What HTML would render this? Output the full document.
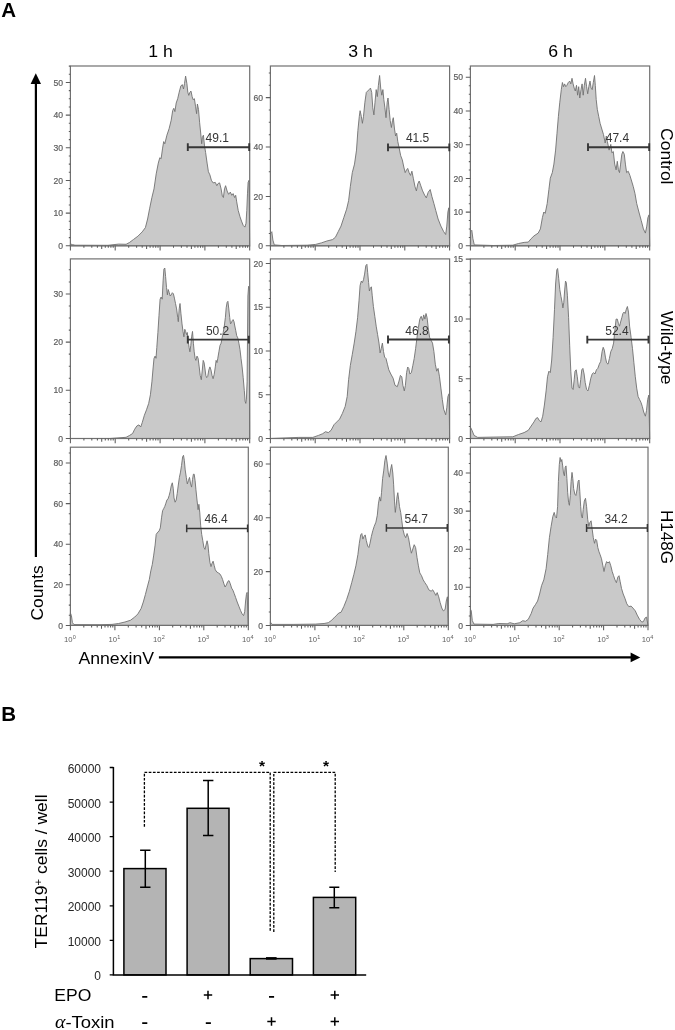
<!DOCTYPE html>
<html><head><meta charset="utf-8"><title>Figure</title>
<style>
html,body{margin:0;padding:0;background:#fff;}
body{width:675px;height:1030px;overflow:hidden;font-family:"Liberation Sans",sans-serif;}
svg{display:block;will-change:transform;}
svg text{font-family:"Liberation Sans",sans-serif;}
</style></head><body>
<svg width="675" height="1030" viewBox="0 0 675 1030">
<rect width="675" height="1030" fill="#fff"/>
<!-- panel letters -->
<text x="1.2" y="16.9" font-size="20.5" font-weight="bold" fill="#000">A</text>
<text x="1.2" y="720.8" font-size="20.5" font-weight="bold" fill="#000">B</text>
<!-- column headers -->
<text x="160.5" y="57" font-size="17" text-anchor="middle" fill="#000" textLength="24.6" lengthAdjust="spacingAndGlyphs">1 h</text>
<text x="360.5" y="57" font-size="17" text-anchor="middle" fill="#000" textLength="24.6" lengthAdjust="spacingAndGlyphs">3 h</text>
<text x="560.5" y="57" font-size="17" text-anchor="middle" fill="#000" textLength="24.6" lengthAdjust="spacingAndGlyphs">6 h</text>
<!-- row labels -->
<text transform="translate(660.9 156.3) rotate(90)" font-size="17" text-anchor="middle" fill="#000" textLength="56.4" lengthAdjust="spacingAndGlyphs">Control</text>
<text transform="translate(660.9 347.8) rotate(90)" font-size="17" text-anchor="middle" fill="#000" textLength="73.4" lengthAdjust="spacingAndGlyphs">Wild-type</text>
<text transform="translate(660.9 537) rotate(90)" font-size="17" text-anchor="middle" fill="#000">H148G</text>
<!-- Counts axis -->
<text transform="translate(42.6 620.5) rotate(-90)" font-size="17" fill="#000" textLength="55.2" lengthAdjust="spacingAndGlyphs">Counts</text>
<path d="M35.9 557V83" stroke="#000" stroke-width="2.2" fill="none"/>
<polygon points="35.8,73.2 30.6,83.9 41,83.9" fill="#000"/>
<!-- AnnexinV axis -->
<text x="78.4" y="664.3" font-size="17" fill="#000" textLength="75.6" lengthAdjust="spacingAndGlyphs">AnnexinV</text>
<path d="M158.9 657.4H632" stroke="#000" stroke-width="2.2" fill="none"/>
<polygon points="640.3,657.4 630.6,652.5 630.6,662.3" fill="#000"/>
<polygon points="70.4,245.8 70.4,244.0 72.5,244.6 75.0,245.2 108.0,245.3 118.6,244.1 126.1,244.3 129.3,242.6 133.6,239.4 137.9,236.2 142.2,231.9 145.4,227.6 147.6,219.0 149.7,208.2 151.9,197.5 154.0,188.9 156.2,173.9 158.3,163.1 159.8,157.7 161.1,158.8 162.6,148.1 163.7,141.6 164.8,143.8 166.9,135.2 169.1,128.7 171.2,120.2 172.7,110.5 173.8,108.3 174.9,111.6 176.2,103.0 177.7,98.7 179.2,92.2 180.9,85.8 182.4,84.7 183.5,89.0 184.5,83.6 185.6,76.1 186.9,83.6 187.8,92.2 188.8,95.4 189.9,92.2 191.0,91.1 192.1,96.5 193.1,99.7 194.4,98.7 195.5,106.2 196.6,113.7 197.4,104.0 198.5,109.4 199.6,122.3 200.7,133.0 201.7,143.8 202.4,137.3 203.4,135.2 204.5,145.9 205.6,152.4 207.1,163.1 208.4,171.7 209.9,174.9 211.4,180.3 213.1,182.9 215.3,182.4 216.8,185.7 218.1,183.5 219.6,182.9 221.1,188.9 222.4,196.4 223.4,197.5 224.5,188.9 225.6,185.7 227.1,191.0 228.6,194.3 230.3,192.1 231.8,195.3 233.1,193.6 234.6,197.5 235.7,195.3 236.7,201.8 238.2,210.4 240.0,216.8 241.5,221.1 243.2,225.4 244.9,227.1 246.0,223.3 246.8,210.4 247.5,193.2 248.1,182.4 249.0,180.3 249.7,245.8" fill="#c9c9c9" stroke="#707070" stroke-width="0.9" stroke-linejoin="round"/>
<rect x="70.4" y="66.0" width="179.3" height="179.8" fill="none" stroke="#707070" stroke-width="1.2"/>
<text x="63.0" y="248.9" font-size="8.6" fill="#5e5e5e" stroke="#5e5e5e" stroke-width="0.2" text-anchor="end">0</text>
<text x="63.0" y="216.2" font-size="8.6" fill="#5e5e5e" stroke="#5e5e5e" stroke-width="0.2" text-anchor="end">10</text>
<text x="63.0" y="183.5" font-size="8.6" fill="#5e5e5e" stroke="#5e5e5e" stroke-width="0.2" text-anchor="end">20</text>
<text x="63.0" y="150.9" font-size="8.6" fill="#5e5e5e" stroke="#5e5e5e" stroke-width="0.2" text-anchor="end">30</text>
<text x="63.0" y="118.2" font-size="8.6" fill="#5e5e5e" stroke="#5e5e5e" stroke-width="0.2" text-anchor="end">40</text>
<text x="63.0" y="85.5" font-size="8.6" fill="#5e5e5e" stroke="#5e5e5e" stroke-width="0.2" text-anchor="end">50</text>
<path d="M70.4 245.8h-1.6M70.4 237.6h-1.6M70.4 229.5h-1.6M70.4 221.3h-1.6M70.4 213.1h-1.6M70.4 205.0h-1.6M70.4 196.8h-1.6M70.4 188.6h-1.6M70.4 180.4h-1.6M70.4 172.3h-1.6M70.4 164.1h-1.6M70.4 155.9h-1.6M70.4 147.8h-1.6M70.4 139.6h-1.6M70.4 131.4h-1.6M70.4 123.3h-1.6M70.4 115.1h-1.6M70.4 106.9h-1.6M70.4 98.7h-1.6M70.4 90.6h-1.6M70.4 82.4h-1.6M70.4 74.2h-1.6M70.4 66.1h-1.6M70.4 245.8h-4.6M70.4 213.1h-4.6M70.4 180.4h-4.6M70.4 147.8h-4.6M70.4 115.1h-4.6M70.4 82.4h-4.6M70.4 245.8v4.8M83.9 245.8v2.0M91.8 245.8v2.0M97.4 245.8v2.0M101.7 245.8v3.3M105.3 245.8v2.0M108.3 245.8v2.0M110.9 245.8v2.0M113.2 245.8v2.0M115.2 245.8v4.8M128.7 245.8v2.0M136.6 245.8v2.0M142.2 245.8v2.0M146.6 245.8v3.3M150.1 245.8v2.0M153.1 245.8v2.0M155.7 245.8v2.0M158.0 245.8v2.0M160.1 245.8v4.8M173.5 245.8v2.0M181.4 245.8v2.0M187.0 245.8v2.0M191.4 245.8v3.3M194.9 245.8v2.0M197.9 245.8v2.0M200.5 245.8v2.0M202.8 245.8v2.0M204.9 245.8v4.8M218.4 245.8v2.0M226.3 245.8v2.0M231.9 245.8v2.0M236.2 245.8v3.3M239.8 245.8v2.0M242.8 245.8v2.0M245.4 245.8v2.0M247.6 245.8v2.0M249.7 245.8v4.8" stroke="#5c5c5c" stroke-width="1.05" fill="none"/>
<path d="M187.8 147.2H249.2M187.8 143.3v7.8M249.2 143.3v7.8" stroke="#363636" stroke-width="1.9" fill="none"/>
<text x="217.3" y="142.3" font-size="12" fill="#363636" text-anchor="middle">49.1</text>
<polygon points="270.6,245.8 270.6,233.1 271.8,231.7 272.9,240.1 274.3,244.9 281.9,245.5 307.2,245.2 315.7,244.4 321.3,242.9 326.9,241.0 332.5,239.6 335.4,237.3 338.2,231.7 341.0,226.1 343.8,217.6 346.6,209.2 348.6,200.7 350.3,186.7 352.3,172.6 354.5,164.1 356.5,150.1 357.9,130.4 359.3,116.3 360.1,110.7 361.3,116.3 362.4,123.3 363.5,116.3 364.9,102.2 366.3,92.4 367.7,91.0 369.1,89.6 370.5,88.1 371.7,92.4 372.8,107.8 373.9,114.9 375.0,102.2 376.2,89.6 377.3,96.6 378.4,85.3 379.6,75.5 380.7,88.1 381.8,95.2 382.9,89.6 383.8,99.4 384.9,107.8 386.0,117.7 387.2,102.2 388.0,98.0 389.1,109.3 390.2,120.5 391.4,127.5 392.5,120.5 393.3,117.7 394.5,129.0 395.6,136.0 396.7,133.2 397.8,141.6 399.0,147.3 400.7,155.7 402.3,159.9 403.8,167.0 405.2,172.6 406.6,169.8 407.7,168.4 409.1,172.6 410.5,175.4 411.9,171.2 413.3,178.2 415.0,186.7 416.4,190.9 417.8,183.8 419.2,181.0 420.6,185.2 422.6,190.9 424.6,195.1 426.3,197.9 428.2,192.3 430.2,189.5 431.9,196.5 433.9,203.5 435.8,210.6 438.1,219.0 440.9,226.1 443.7,231.7 445.7,234.5 446.8,226.1 447.9,212.0 448.8,207.8 449.6,245.8" fill="#c9c9c9" stroke="#707070" stroke-width="0.9" stroke-linejoin="round"/>
<rect x="270.4" y="66.0" width="179.2" height="179.8" fill="none" stroke="#707070" stroke-width="1.2"/>
<text x="263.0" y="248.9" font-size="8.6" fill="#5e5e5e" stroke="#5e5e5e" stroke-width="0.2" text-anchor="end">0</text>
<text x="263.0" y="199.5" font-size="8.6" fill="#5e5e5e" stroke="#5e5e5e" stroke-width="0.2" text-anchor="end">20</text>
<text x="263.0" y="150.1" font-size="8.6" fill="#5e5e5e" stroke="#5e5e5e" stroke-width="0.2" text-anchor="end">40</text>
<text x="263.0" y="100.7" font-size="8.6" fill="#5e5e5e" stroke="#5e5e5e" stroke-width="0.2" text-anchor="end">60</text>
<path d="M270.4 245.8h-1.6M270.4 233.5h-1.6M270.4 221.1h-1.6M270.4 208.8h-1.6M270.4 196.4h-1.6M270.4 184.1h-1.6M270.4 171.7h-1.6M270.4 159.4h-1.6M270.4 147.0h-1.6M270.4 134.7h-1.6M270.4 122.3h-1.6M270.4 109.9h-1.6M270.4 97.6h-1.6M270.4 85.2h-1.6M270.4 72.9h-1.6M270.4 245.8h-4.6M270.4 196.4h-4.6M270.4 147.0h-4.6M270.4 97.6h-4.6M270.4 245.8v4.8M283.9 245.8v2.0M291.8 245.8v2.0M297.4 245.8v2.0M301.7 245.8v3.3M305.3 245.8v2.0M308.3 245.8v2.0M310.9 245.8v2.0M313.2 245.8v2.0M315.2 245.8v4.8M328.7 245.8v2.0M336.6 245.8v2.0M342.2 245.8v2.0M346.5 245.8v3.3M350.1 245.8v2.0M353.1 245.8v2.0M355.7 245.8v2.0M358.0 245.8v2.0M360.0 245.8v4.8M373.5 245.8v2.0M381.4 245.8v2.0M387.0 245.8v2.0M391.3 245.8v3.3M394.9 245.8v2.0M397.9 245.8v2.0M400.5 245.8v2.0M402.8 245.8v2.0M404.8 245.8v4.8M418.3 245.8v2.0M426.2 245.8v2.0M431.8 245.8v2.0M436.1 245.8v3.3M439.7 245.8v2.0M442.7 245.8v2.0M445.3 245.8v2.0M447.6 245.8v2.0M449.6 245.8v4.8" stroke="#5c5c5c" stroke-width="1.05" fill="none"/>
<path d="M388.0 147.4H449.3M388.0 143.5v7.8M449.3 143.5v7.8" stroke="#363636" stroke-width="1.9" fill="none"/>
<text x="417.6" y="142.4" font-size="12" fill="#363636" text-anchor="middle">41.5</text>
<polygon points="470.6,245.8 470.6,231.7 471.8,230.3 472.9,238.7 474.3,244.9 493.1,245.5 512.8,245.2 518.5,243.5 524.1,242.4 528.3,242.1 531.1,238.7 534.0,235.9 538.2,233.1 540.4,228.9 542.4,217.6 543.8,212.0 545.2,213.4 547.2,203.5 548.9,189.5 550.3,178.2 552.3,172.6 553.9,164.1 555.6,150.1 557.0,133.2 558.4,116.3 559.8,102.2 561.3,89.6 562.4,82.5 563.5,86.7 564.6,83.9 565.8,86.7 566.9,85.3 568.3,82.5 569.7,81.1 570.8,83.9 572.0,78.3 573.1,83.9 574.2,88.1 575.3,91.0 576.5,85.3 577.6,95.2 578.7,86.7 579.8,98.0 581.0,89.6 582.1,83.9 583.2,95.2 584.3,85.3 585.5,78.3 586.6,86.7 587.7,93.8 588.8,86.7 590.0,81.1 591.1,88.1 592.2,89.6 593.3,82.5 594.5,75.5 595.3,85.3 596.2,99.4 597.3,109.3 598.7,116.3 600.1,123.3 601.8,129.0 603.5,134.6 605.2,143.0 606.3,136.0 607.4,141.6 609.1,150.1 610.8,144.4 611.9,152.9 613.3,151.5 614.7,164.1 616.1,169.8 617.3,161.3 618.4,169.8 619.5,172.6 620.6,164.1 621.8,154.3 622.9,151.5 624.3,154.3 625.4,164.1 626.6,172.6 628.2,171.2 629.9,175.4 631.6,181.0 633.3,186.7 635.0,193.7 636.7,203.5 638.9,212.0 641.2,220.4 643.4,228.9 645.4,233.1 646.8,226.1 647.9,217.6 649.1,214.8 649.7,245.8" fill="#c9c9c9" stroke="#707070" stroke-width="0.9" stroke-linejoin="round"/>
<rect x="470.4" y="66.0" width="179.3" height="179.8" fill="none" stroke="#707070" stroke-width="1.2"/>
<text x="463.0" y="248.9" font-size="8.6" fill="#5e5e5e" stroke="#5e5e5e" stroke-width="0.2" text-anchor="end">0</text>
<text x="463.0" y="215.2" font-size="8.6" fill="#5e5e5e" stroke="#5e5e5e" stroke-width="0.2" text-anchor="end">10</text>
<text x="463.0" y="181.5" font-size="8.6" fill="#5e5e5e" stroke="#5e5e5e" stroke-width="0.2" text-anchor="end">20</text>
<text x="463.0" y="147.8" font-size="8.6" fill="#5e5e5e" stroke="#5e5e5e" stroke-width="0.2" text-anchor="end">30</text>
<text x="463.0" y="114.1" font-size="8.6" fill="#5e5e5e" stroke="#5e5e5e" stroke-width="0.2" text-anchor="end">40</text>
<text x="463.0" y="80.4" font-size="8.6" fill="#5e5e5e" stroke="#5e5e5e" stroke-width="0.2" text-anchor="end">50</text>
<path d="M470.4 245.8h-1.6M470.4 237.4h-1.6M470.4 229.0h-1.6M470.4 220.5h-1.6M470.4 212.1h-1.6M470.4 203.7h-1.6M470.4 195.2h-1.6M470.4 186.8h-1.6M470.4 178.4h-1.6M470.4 170.0h-1.6M470.4 161.6h-1.6M470.4 153.1h-1.6M470.4 144.7h-1.6M470.4 136.3h-1.6M470.4 127.9h-1.6M470.4 119.4h-1.6M470.4 111.0h-1.6M470.4 102.6h-1.6M470.4 94.2h-1.6M470.4 85.7h-1.6M470.4 77.3h-1.6M470.4 68.9h-1.6M470.4 245.8h-4.6M470.4 212.1h-4.6M470.4 178.4h-4.6M470.4 144.7h-4.6M470.4 111.0h-4.6M470.4 77.3h-4.6M470.4 245.8v4.8M483.9 245.8v2.0M491.8 245.8v2.0M497.4 245.8v2.0M501.7 245.8v3.3M505.3 245.8v2.0M508.3 245.8v2.0M510.9 245.8v2.0M513.2 245.8v2.0M515.2 245.8v4.8M528.7 245.8v2.0M536.6 245.8v2.0M542.2 245.8v2.0M546.6 245.8v3.3M550.1 245.8v2.0M553.1 245.8v2.0M555.7 245.8v2.0M558.0 245.8v2.0M560.0 245.8v4.8M573.5 245.8v2.0M581.4 245.8v2.0M587.0 245.8v2.0M591.4 245.8v3.3M594.9 245.8v2.0M597.9 245.8v2.0M600.5 245.8v2.0M602.8 245.8v2.0M604.9 245.8v4.8M618.4 245.8v2.0M626.3 245.8v2.0M631.9 245.8v2.0M636.2 245.8v3.3M639.8 245.8v2.0M642.8 245.8v2.0M645.4 245.8v2.0M647.6 245.8v2.0M649.7 245.8v4.8" stroke="#5c5c5c" stroke-width="1.05" fill="none"/>
<path d="M588.0 147.2H649.2M588.0 143.3v7.8M649.2 143.3v7.8" stroke="#363636" stroke-width="1.9" fill="none"/>
<text x="617.4" y="142.0" font-size="12" fill="#363636" text-anchor="middle">47.4</text>
<polygon points="110.0,438.5 126.1,437.3 129.3,435.6 132.6,433.5 134.7,429.2 136.9,425.9 139.0,424.9 140.7,427.0 142.2,422.7 144.4,415.2 146.5,409.8 148.7,403.4 150.4,394.8 151.9,381.9 153.0,369.0 154.0,358.3 155.1,356.1 156.0,358.3 156.8,347.5 157.9,332.5 159.0,315.3 160.1,299.2 161.1,297.0 162.2,299.2 163.1,280.9 163.9,269.1 164.8,268.0 165.6,276.6 166.5,287.4 167.4,294.9 168.2,289.5 169.3,292.7 170.2,296.0 171.2,294.9 172.3,292.7 173.4,293.8 174.4,298.1 175.5,303.5 176.6,308.9 177.7,317.4 178.3,321.7 179.2,308.9 180.0,303.5 180.9,313.2 182.0,323.9 183.0,331.4 183.9,336.8 184.8,329.3 185.6,331.4 186.5,334.6 187.3,332.5 188.2,341.1 189.1,347.5 189.9,351.8 190.8,345.4 191.6,336.8 192.5,331.4 193.4,343.2 194.2,351.8 195.1,358.3 195.9,360.4 197.0,356.1 198.1,358.3 199.2,366.9 200.2,375.4 201.3,379.7 202.4,369.0 203.2,360.4 204.1,362.6 205.0,369.0 205.8,375.4 206.7,377.6 207.7,376.5 208.8,370.1 209.9,366.9 211.0,370.1 212.0,375.4 213.1,378.7 214.2,374.4 215.3,366.9 216.1,360.4 217.0,362.6 217.8,358.3 218.9,351.8 220.0,345.4 221.1,343.2 222.1,337.9 223.2,332.5 224.3,326.0 225.4,317.4 226.2,307.8 227.1,302.4 227.9,301.3 228.8,308.9 229.7,317.4 230.5,323.9 231.4,322.8 232.2,320.7 233.1,319.6 234.0,321.7 234.8,326.0 235.7,330.3 236.7,335.7 237.8,337.9 238.9,343.2 240.0,349.7 241.0,358.3 242.1,366.9 243.2,377.6 244.3,390.5 245.1,401.2 245.8,403.4 246.4,399.1 247.1,381.9 247.5,338.9 247.9,296.0 248.6,286.3 249.2,287.4 249.7,438.5" fill="#c9c9c9" stroke="#707070" stroke-width="0.9" stroke-linejoin="round"/>
<rect x="70.4" y="258.9" width="179.3" height="179.6" fill="none" stroke="#707070" stroke-width="1.2"/>
<text x="63.0" y="441.6" font-size="8.6" fill="#5e5e5e" stroke="#5e5e5e" stroke-width="0.2" text-anchor="end">0</text>
<text x="63.0" y="393.4" font-size="8.6" fill="#5e5e5e" stroke="#5e5e5e" stroke-width="0.2" text-anchor="end">10</text>
<text x="63.0" y="345.2" font-size="8.6" fill="#5e5e5e" stroke="#5e5e5e" stroke-width="0.2" text-anchor="end">20</text>
<text x="63.0" y="297.0" font-size="8.6" fill="#5e5e5e" stroke="#5e5e5e" stroke-width="0.2" text-anchor="end">30</text>
<path d="M70.4 438.5h-1.6M70.4 426.4h-1.6M70.4 414.4h-1.6M70.4 402.4h-1.6M70.4 390.3h-1.6M70.4 378.2h-1.6M70.4 366.2h-1.6M70.4 354.1h-1.6M70.4 342.1h-1.6M70.4 330.1h-1.6M70.4 318.0h-1.6M70.4 305.9h-1.6M70.4 293.9h-1.6M70.4 281.9h-1.6M70.4 269.8h-1.6M70.4 438.5h-4.6M70.4 390.3h-4.6M70.4 342.1h-4.6M70.4 293.9h-4.6M70.4 438.5v4.8M83.9 438.5v2.0M91.8 438.5v2.0M97.4 438.5v2.0M101.7 438.5v3.3M105.3 438.5v2.0M108.3 438.5v2.0M110.9 438.5v2.0M113.2 438.5v2.0M115.2 438.5v4.8M128.7 438.5v2.0M136.6 438.5v2.0M142.2 438.5v2.0M146.6 438.5v3.3M150.1 438.5v2.0M153.1 438.5v2.0M155.7 438.5v2.0M158.0 438.5v2.0M160.1 438.5v4.8M173.5 438.5v2.0M181.4 438.5v2.0M187.0 438.5v2.0M191.4 438.5v3.3M194.9 438.5v2.0M197.9 438.5v2.0M200.5 438.5v2.0M202.8 438.5v2.0M204.9 438.5v4.8M218.4 438.5v2.0M226.3 438.5v2.0M231.9 438.5v2.0M236.2 438.5v3.3M239.8 438.5v2.0M242.8 438.5v2.0M245.4 438.5v2.0M247.6 438.5v2.0M249.7 438.5v4.8" stroke="#5c5c5c" stroke-width="1.05" fill="none"/>
<path d="M187.8 339.6H248.8M187.8 335.7v7.8M248.8 335.7v7.8" stroke="#363636" stroke-width="1.9" fill="none"/>
<text x="217.6" y="335.2" font-size="12" fill="#363636" text-anchor="middle">50.2</text>
<polygon points="270.6,438.5 298.8,437.4 312.8,437.4 318.5,435.4 322.7,433.7 325.5,431.7 328.3,432.6 331.1,430.3 334.0,424.7 336.8,421.9 339.6,419.1 342.4,413.4 345.2,406.4 347.2,396.5 348.6,379.7 350.3,365.6 352.3,354.3 354.2,343.1 355.9,331.8 357.6,317.7 359.0,300.8 360.1,285.4 361.3,281.1 362.4,282.6 363.5,279.7 364.6,274.1 365.8,265.7 366.9,264.3 367.7,272.7 368.6,282.6 369.4,291.0 370.3,288.2 371.4,286.8 372.2,295.2 373.4,306.5 374.8,316.3 376.2,326.2 377.6,334.6 379.0,343.1 380.1,352.9 381.2,348.7 382.4,343.1 383.5,351.5 384.6,357.1 386.0,358.5 387.4,364.2 388.8,369.8 390.8,374.0 393.1,378.2 395.0,385.3 397.3,386.7 399.0,381.1 400.4,375.4 401.8,376.8 402.9,385.3 404.3,390.9 405.4,385.3 406.6,372.6 407.7,367.0 408.8,368.4 409.9,374.0 411.4,372.6 412.8,365.6 414.2,358.5 415.6,348.7 417.0,337.4 418.4,327.6 419.8,319.1 421.2,316.3 422.6,320.5 423.7,314.9 424.9,319.1 426.0,313.5 427.1,317.7 428.2,327.6 429.6,337.4 431.1,340.3 432.5,343.1 433.9,351.5 435.3,364.2 436.7,371.2 438.1,368.4 439.5,376.8 440.9,388.1 442.3,399.4 443.7,409.2 445.7,414.8 446.8,407.8 447.9,396.5 449.1,393.7 449.6,438.5" fill="#c9c9c9" stroke="#707070" stroke-width="0.9" stroke-linejoin="round"/>
<rect x="270.4" y="258.9" width="179.2" height="179.6" fill="none" stroke="#707070" stroke-width="1.2"/>
<text x="263.0" y="441.6" font-size="8.6" fill="#5e5e5e" stroke="#5e5e5e" stroke-width="0.2" text-anchor="end">0</text>
<text x="263.0" y="397.9" font-size="8.6" fill="#5e5e5e" stroke="#5e5e5e" stroke-width="0.2" text-anchor="end">5</text>
<text x="263.0" y="354.1" font-size="8.6" fill="#5e5e5e" stroke="#5e5e5e" stroke-width="0.2" text-anchor="end">10</text>
<text x="263.0" y="310.4" font-size="8.6" fill="#5e5e5e" stroke="#5e5e5e" stroke-width="0.2" text-anchor="end">15</text>
<text x="263.0" y="266.6" font-size="8.6" fill="#5e5e5e" stroke="#5e5e5e" stroke-width="0.2" text-anchor="end">20</text>
<path d="M270.4 438.5h-1.6M270.4 429.8h-1.6M270.4 421.0h-1.6M270.4 412.2h-1.6M270.4 403.5h-1.6M270.4 394.8h-1.6M270.4 386.0h-1.6M270.4 377.2h-1.6M270.4 368.5h-1.6M270.4 359.8h-1.6M270.4 351.0h-1.6M270.4 342.2h-1.6M270.4 333.5h-1.6M270.4 324.8h-1.6M270.4 316.0h-1.6M270.4 307.2h-1.6M270.4 298.5h-1.6M270.4 289.8h-1.6M270.4 281.0h-1.6M270.4 272.2h-1.6M270.4 263.5h-1.6M270.4 438.5h-4.6M270.4 394.8h-4.6M270.4 351.0h-4.6M270.4 307.2h-4.6M270.4 263.5h-4.6M270.4 438.5v4.8M283.9 438.5v2.0M291.8 438.5v2.0M297.4 438.5v2.0M301.7 438.5v3.3M305.3 438.5v2.0M308.3 438.5v2.0M310.9 438.5v2.0M313.2 438.5v2.0M315.2 438.5v4.8M328.7 438.5v2.0M336.6 438.5v2.0M342.2 438.5v2.0M346.5 438.5v3.3M350.1 438.5v2.0M353.1 438.5v2.0M355.7 438.5v2.0M358.0 438.5v2.0M360.0 438.5v4.8M373.5 438.5v2.0M381.4 438.5v2.0M387.0 438.5v2.0M391.3 438.5v3.3M394.9 438.5v2.0M397.9 438.5v2.0M400.5 438.5v2.0M402.8 438.5v2.0M404.8 438.5v4.8M418.3 438.5v2.0M426.2 438.5v2.0M431.8 438.5v2.0M436.1 438.5v3.3M439.7 438.5v2.0M442.7 438.5v2.0M445.3 438.5v2.0M447.6 438.5v2.0M449.6 438.5v4.8" stroke="#5c5c5c" stroke-width="1.05" fill="none"/>
<path d="M388.0 339.5H448.9M388.0 335.6v7.8M448.9 335.6v7.8" stroke="#363636" stroke-width="1.9" fill="none"/>
<text x="417.0" y="335.3" font-size="12" fill="#363636" text-anchor="middle">46.8</text>
<polygon points="470.6,438.5 470.6,427.5 472.0,430.3 474.0,435.4 477.7,437.4 493.1,437.1 512.8,436.8 518.5,434.5 524.1,432.6 528.3,430.3 531.1,426.1 534.0,421.9 535.9,418.5 537.6,417.6 539.3,420.5 541.0,421.9 542.7,416.2 544.4,405.0 546.1,390.9 547.5,376.8 548.9,371.2 550.3,372.6 551.7,360.0 553.1,337.4 554.5,309.3 555.6,284.0 556.8,269.9 557.6,268.5 558.7,278.3 559.8,289.6 561.0,296.6 562.1,302.3 562.9,307.9 563.8,302.3 564.6,291.0 565.5,281.1 566.3,282.6 567.4,295.2 568.6,317.7 569.7,345.9 570.8,371.2 572.0,388.1 573.1,389.5 574.2,379.7 575.0,371.2 576.2,369.8 577.3,376.8 578.4,386.7 579.6,388.1 580.7,379.7 581.8,369.8 582.9,368.4 584.1,374.0 585.2,382.5 586.6,389.5 588.0,390.9 589.4,385.3 590.8,378.2 592.2,374.0 593.6,372.6 595.0,374.0 596.4,369.8 597.8,368.4 599.3,364.2 600.7,361.4 602.1,351.5 603.2,347.3 604.3,350.1 605.4,357.1 606.6,362.8 608.0,364.2 609.4,358.5 610.8,351.5 612.2,348.7 613.6,343.1 615.0,329.0 616.1,319.1 617.3,319.1 618.4,323.4 619.5,326.2 620.6,322.0 621.8,317.7 622.9,313.5 624.0,312.1 625.1,313.5 626.3,309.3 627.4,306.5 628.5,312.1 629.6,326.2 631.1,337.4 632.5,348.7 633.9,362.8 635.3,376.8 636.7,388.1 638.1,396.5 639.5,399.4 640.9,402.2 642.3,406.4 643.7,412.0 645.4,416.2 646.5,410.6 647.7,399.4 648.8,395.1 649.7,438.5" fill="#c9c9c9" stroke="#707070" stroke-width="0.9" stroke-linejoin="round"/>
<rect x="470.4" y="258.9" width="179.3" height="179.6" fill="none" stroke="#707070" stroke-width="1.2"/>
<text x="463.0" y="441.6" font-size="8.6" fill="#5e5e5e" stroke="#5e5e5e" stroke-width="0.2" text-anchor="end">0</text>
<text x="463.0" y="381.8" font-size="8.6" fill="#5e5e5e" stroke="#5e5e5e" stroke-width="0.2" text-anchor="end">5</text>
<text x="463.0" y="322.0" font-size="8.6" fill="#5e5e5e" stroke="#5e5e5e" stroke-width="0.2" text-anchor="end">10</text>
<text x="463.0" y="262.2" font-size="8.6" fill="#5e5e5e" stroke="#5e5e5e" stroke-width="0.2" text-anchor="end">15</text>
<path d="M470.4 438.5h-1.6M470.4 426.5h-1.6M470.4 414.6h-1.6M470.4 402.6h-1.6M470.4 390.7h-1.6M470.4 378.7h-1.6M470.4 366.7h-1.6M470.4 354.8h-1.6M470.4 342.8h-1.6M470.4 330.9h-1.6M470.4 318.9h-1.6M470.4 306.9h-1.6M470.4 295.0h-1.6M470.4 283.0h-1.6M470.4 271.1h-1.6M470.4 259.1h-1.6M470.4 438.5h-4.6M470.4 378.7h-4.6M470.4 318.9h-4.6M470.4 259.1h-4.6M470.4 438.5v4.8M483.9 438.5v2.0M491.8 438.5v2.0M497.4 438.5v2.0M501.7 438.5v3.3M505.3 438.5v2.0M508.3 438.5v2.0M510.9 438.5v2.0M513.2 438.5v2.0M515.2 438.5v4.8M528.7 438.5v2.0M536.6 438.5v2.0M542.2 438.5v2.0M546.6 438.5v3.3M550.1 438.5v2.0M553.1 438.5v2.0M555.7 438.5v2.0M558.0 438.5v2.0M560.0 438.5v4.8M573.5 438.5v2.0M581.4 438.5v2.0M587.0 438.5v2.0M591.4 438.5v3.3M594.9 438.5v2.0M597.9 438.5v2.0M600.5 438.5v2.0M602.8 438.5v2.0M604.9 438.5v4.8M618.4 438.5v2.0M626.3 438.5v2.0M631.9 438.5v2.0M636.2 438.5v3.3M639.8 438.5v2.0M642.8 438.5v2.0M645.4 438.5v2.0M647.6 438.5v2.0M649.7 438.5v4.8" stroke="#5c5c5c" stroke-width="1.05" fill="none"/>
<path d="M587.3 339.6H648.5M587.3 335.7v7.8M648.5 335.7v7.8" stroke="#363636" stroke-width="1.9" fill="none"/>
<text x="616.9" y="334.6" font-size="12" fill="#363636" text-anchor="middle">52.4</text>
<polygon points="70.4,625.4 70.4,613.0 71.4,615.5 72.4,622.5 74.0,624.6 100.0,624.7 112.0,624.4 118.6,623.5 125.0,622.0 130.4,620.3 134.7,617.1 137.9,613.9 141.1,608.5 143.3,602.0 145.4,594.5 147.6,585.9 149.3,579.5 150.8,570.9 152.3,564.4 153.6,555.9 155.1,545.1 156.2,534.4 157.7,532.2 159.0,531.2 160.3,527.9 161.6,517.2 162.6,510.7 163.7,508.6 164.8,506.4 165.9,503.2 166.9,500.0 168.0,498.9 169.1,495.7 170.2,491.4 171.2,486.0 172.3,482.8 173.2,488.2 174.0,497.9 175.1,502.2 176.2,500.0 177.2,493.6 178.3,485.0 179.4,477.4 180.5,472.1 181.5,465.6 182.6,457.0 183.5,455.3 184.3,460.3 185.2,469.9 186.3,477.4 187.3,483.9 188.4,480.7 189.5,477.4 190.6,483.9 191.6,487.1 192.5,479.6 193.4,474.2 194.2,474.2 195.1,480.7 195.9,489.3 197.0,500.0 198.1,509.7 198.9,504.3 199.8,512.9 200.7,525.8 201.7,534.4 202.8,540.8 203.9,547.3 205.0,549.4 206.0,545.1 207.1,540.8 208.0,545.1 208.8,553.7 209.9,562.3 211.0,566.6 212.0,563.4 213.1,561.2 214.2,565.5 215.3,569.8 216.8,572.0 218.5,573.0 220.0,574.1 221.3,576.3 222.6,579.5 223.9,583.8 225.1,587.0 226.4,584.9 227.7,581.6 229.0,580.6 230.3,583.8 231.6,588.1 232.9,590.2 234.2,593.5 235.7,597.7 237.2,602.0 238.9,606.3 240.6,610.6 242.1,613.9 243.6,615.6 244.7,611.7 245.6,601.0 246.4,594.5 247.1,592.4 248.3,625.4" fill="#c9c9c9" stroke="#707070" stroke-width="0.9" stroke-linejoin="round"/>
<rect x="70.4" y="447.2" width="177.9" height="178.2" fill="none" stroke="#707070" stroke-width="1.2"/>
<text x="63.0" y="628.5" font-size="8.6" fill="#5e5e5e" stroke="#5e5e5e" stroke-width="0.2" text-anchor="end">0</text>
<text x="63.0" y="587.9" font-size="8.6" fill="#5e5e5e" stroke="#5e5e5e" stroke-width="0.2" text-anchor="end">20</text>
<text x="63.0" y="547.3" font-size="8.6" fill="#5e5e5e" stroke="#5e5e5e" stroke-width="0.2" text-anchor="end">40</text>
<text x="63.0" y="506.7" font-size="8.6" fill="#5e5e5e" stroke="#5e5e5e" stroke-width="0.2" text-anchor="end">60</text>
<text x="63.0" y="466.1" font-size="8.6" fill="#5e5e5e" stroke="#5e5e5e" stroke-width="0.2" text-anchor="end">80</text>
<text x="69.9" y="641.7" font-size="7.7" fill="#5e5e5e" text-anchor="middle">10<tspan dy="-3.1" font-size="5.5">0</tspan></text>
<text x="114.4" y="641.7" font-size="7.7" fill="#5e5e5e" text-anchor="middle">10<tspan dy="-3.1" font-size="5.5">1</tspan></text>
<text x="158.9" y="641.7" font-size="7.7" fill="#5e5e5e" text-anchor="middle">10<tspan dy="-3.1" font-size="5.5">2</tspan></text>
<text x="203.3" y="641.7" font-size="7.7" fill="#5e5e5e" text-anchor="middle">10<tspan dy="-3.1" font-size="5.5">3</tspan></text>
<text x="247.8" y="641.7" font-size="7.7" fill="#5e5e5e" text-anchor="middle">10<tspan dy="-3.1" font-size="5.5">4</tspan></text>
<path d="M70.4 625.4h-1.6M70.4 615.2h-1.6M70.4 605.1h-1.6M70.4 594.9h-1.6M70.4 584.8h-1.6M70.4 574.6h-1.6M70.4 564.5h-1.6M70.4 554.4h-1.6M70.4 544.2h-1.6M70.4 534.0h-1.6M70.4 523.9h-1.6M70.4 513.8h-1.6M70.4 503.6h-1.6M70.4 493.4h-1.6M70.4 483.3h-1.6M70.4 473.1h-1.6M70.4 463.0h-1.6M70.4 452.9h-1.6M70.4 625.4h-4.6M70.4 584.8h-4.6M70.4 544.2h-4.6M70.4 503.6h-4.6M70.4 463.0h-4.6M70.4 625.4v4.8M83.8 625.4v2.0M91.6 625.4v2.0M97.2 625.4v2.0M101.5 625.4v3.3M105.0 625.4v2.0M108.0 625.4v2.0M110.6 625.4v2.0M112.8 625.4v2.0M114.9 625.4v4.8M128.3 625.4v2.0M136.1 625.4v2.0M141.7 625.4v2.0M146.0 625.4v3.3M149.5 625.4v2.0M152.5 625.4v2.0M155.0 625.4v2.0M157.3 625.4v2.0M159.4 625.4v4.8M172.7 625.4v2.0M180.6 625.4v2.0M186.1 625.4v2.0M190.4 625.4v3.3M194.0 625.4v2.0M196.9 625.4v2.0M199.5 625.4v2.0M201.8 625.4v2.0M203.8 625.4v4.8M217.2 625.4v2.0M225.0 625.4v2.0M230.6 625.4v2.0M234.9 625.4v3.3M238.4 625.4v2.0M241.4 625.4v2.0M244.0 625.4v2.0M246.3 625.4v2.0M248.3 625.4v4.8" stroke="#5c5c5c" stroke-width="1.05" fill="none"/>
<path d="M186.7 528.4H247.6M186.7 524.5v7.8M247.6 524.5v7.8" stroke="#363636" stroke-width="1.5" fill="none"/>
<text x="216.1" y="523.4" font-size="12" fill="#363636" text-anchor="middle">46.4</text>
<polygon points="270.4,625.4 270.4,622.1 272.0,624.4 293.1,624.4 315.7,624.1 324.1,623.5 328.3,622.7 331.1,620.7 334.0,617.9 336.8,615.1 338.7,613.1 341.0,612.3 343.8,606.6 346.6,599.6 349.4,591.2 351.7,582.7 353.9,574.3 355.9,565.8 357.9,554.6 359.3,543.3 360.7,534.9 361.8,533.5 362.9,539.1 364.1,536.3 365.2,534.9 366.3,540.5 367.7,546.1 368.9,547.5 370.0,543.3 371.4,536.3 372.8,530.7 374.2,526.4 375.9,522.2 377.3,515.2 378.4,503.9 379.6,496.9 380.7,501.1 381.5,492.7 382.6,478.6 383.8,470.1 384.9,460.3 386.0,455.5 387.2,463.1 388.3,473.0 389.4,477.2 390.5,470.1 391.7,464.5 392.8,473.0 393.6,484.2 394.5,501.1 395.3,512.4 396.2,505.3 397.0,496.9 397.8,492.7 398.7,499.7 399.5,506.7 400.7,512.4 401.8,520.8 402.9,529.3 404.3,534.9 405.7,537.7 407.1,533.5 408.5,537.7 409.9,546.1 411.4,553.2 412.8,549.0 414.2,544.7 415.6,547.5 417.0,557.4 418.4,565.8 419.8,572.9 421.5,575.7 423.2,579.9 424.9,582.7 426.8,585.5 428.8,589.8 431.1,591.2 432.7,589.8 434.4,592.6 435.8,595.4 437.2,592.6 438.7,596.8 440.1,602.4 441.8,608.1 443.4,610.9 445.1,609.5 446.3,601.0 447.4,596.8 448.3,625.4" fill="#c9c9c9" stroke="#707070" stroke-width="0.9" stroke-linejoin="round"/>
<rect x="270.4" y="447.2" width="177.9" height="178.2" fill="none" stroke="#707070" stroke-width="1.2"/>
<text x="263.0" y="628.5" font-size="8.6" fill="#5e5e5e" stroke="#5e5e5e" stroke-width="0.2" text-anchor="end">0</text>
<text x="263.0" y="574.7" font-size="8.6" fill="#5e5e5e" stroke="#5e5e5e" stroke-width="0.2" text-anchor="end">20</text>
<text x="263.0" y="520.9" font-size="8.6" fill="#5e5e5e" stroke="#5e5e5e" stroke-width="0.2" text-anchor="end">40</text>
<text x="263.0" y="467.1" font-size="8.6" fill="#5e5e5e" stroke="#5e5e5e" stroke-width="0.2" text-anchor="end">60</text>
<text x="269.9" y="641.7" font-size="7.7" fill="#5e5e5e" text-anchor="middle">10<tspan dy="-3.1" font-size="5.5">0</tspan></text>
<text x="314.4" y="641.7" font-size="7.7" fill="#5e5e5e" text-anchor="middle">10<tspan dy="-3.1" font-size="5.5">1</tspan></text>
<text x="358.9" y="641.7" font-size="7.7" fill="#5e5e5e" text-anchor="middle">10<tspan dy="-3.1" font-size="5.5">2</tspan></text>
<text x="403.3" y="641.7" font-size="7.7" fill="#5e5e5e" text-anchor="middle">10<tspan dy="-3.1" font-size="5.5">3</tspan></text>
<text x="447.8" y="641.7" font-size="7.7" fill="#5e5e5e" text-anchor="middle">10<tspan dy="-3.1" font-size="5.5">4</tspan></text>
<path d="M270.4 625.4h-1.6M270.4 611.9h-1.6M270.4 598.5h-1.6M270.4 585.0h-1.6M270.4 571.6h-1.6M270.4 558.1h-1.6M270.4 544.7h-1.6M270.4 531.2h-1.6M270.4 517.8h-1.6M270.4 504.3h-1.6M270.4 490.9h-1.6M270.4 477.4h-1.6M270.4 464.0h-1.6M270.4 450.5h-1.6M270.4 625.4h-4.6M270.4 571.6h-4.6M270.4 517.8h-4.6M270.4 464.0h-4.6M270.4 625.4v4.8M283.8 625.4v2.0M291.6 625.4v2.0M297.2 625.4v2.0M301.5 625.4v3.3M305.0 625.4v2.0M308.0 625.4v2.0M310.6 625.4v2.0M312.8 625.4v2.0M314.9 625.4v4.8M328.3 625.4v2.0M336.1 625.4v2.0M341.7 625.4v2.0M346.0 625.4v3.3M349.5 625.4v2.0M352.5 625.4v2.0M355.0 625.4v2.0M357.3 625.4v2.0M359.4 625.4v4.8M372.7 625.4v2.0M380.6 625.4v2.0M386.1 625.4v2.0M390.4 625.4v3.3M394.0 625.4v2.0M396.9 625.4v2.0M399.5 625.4v2.0M401.8 625.4v2.0M403.8 625.4v4.8M417.2 625.4v2.0M425.0 625.4v2.0M430.6 625.4v2.0M434.9 625.4v3.3M438.4 625.4v2.0M441.4 625.4v2.0M444.0 625.4v2.0M446.3 625.4v2.0M448.3 625.4v4.8" stroke="#5c5c5c" stroke-width="1.05" fill="none"/>
<path d="M386.4 527.9H447.3M386.4 524.0v7.8M447.3 524.0v7.8" stroke="#363636" stroke-width="1.5" fill="none"/>
<text x="416.3" y="523.0" font-size="12" fill="#363636" text-anchor="middle">54.7</text>
<polygon points="470.4,625.4 470.4,610.9 471.2,610.3 472.3,620.7 474.0,624.1 493.1,624.4 498.8,623.5 507.2,623.8 510.0,622.7 514.3,623.8 519.9,622.7 522.7,620.7 525.5,621.3 528.3,619.3 531.1,613.7 533.1,608.1 535.4,604.7 537.6,601.0 539.6,594.0 541.6,585.5 543.8,579.9 546.1,568.7 547.7,554.6 549.4,537.7 551.1,526.4 552.8,516.6 554.2,512.4 555.3,516.6 556.5,518.0 557.6,506.7 558.4,481.4 559.3,464.5 560.1,457.5 561.0,461.7 561.8,459.5 562.7,465.9 563.5,473.0 564.4,475.8 565.2,467.3 566.0,465.9 566.9,478.6 567.7,492.7 568.6,502.5 569.4,505.3 570.3,495.5 571.1,481.4 572.0,472.4 572.8,478.6 573.6,488.4 574.8,494.1 575.9,495.5 577.0,489.8 578.1,481.4 579.0,480.0 579.8,491.3 580.7,506.7 581.5,516.6 582.4,518.0 583.2,509.5 584.3,501.1 585.5,498.3 586.6,506.7 587.7,519.4 588.8,526.4 590.0,522.2 591.1,520.8 592.2,529.3 593.3,537.7 594.5,543.3 595.6,539.1 596.7,540.5 597.8,547.5 599.0,551.8 600.1,554.6 601.5,558.8 602.9,565.8 604.0,571.5 605.2,565.8 606.6,561.6 608.0,563.0 609.4,561.6 610.8,565.8 612.2,571.5 613.6,575.7 615.0,579.9 616.4,582.7 617.8,577.1 619.0,575.7 620.1,581.3 621.5,588.4 623.2,594.0 624.9,598.2 626.8,603.8 628.8,606.6 631.1,606.1 633.0,608.1 635.3,610.9 637.2,615.1 639.5,619.3 641.8,622.1 643.4,621.6 645.1,617.9 646.5,617.1 648.0,625.4" fill="#c9c9c9" stroke="#707070" stroke-width="0.9" stroke-linejoin="round"/>
<rect x="470.4" y="447.2" width="177.6" height="178.2" fill="none" stroke="#707070" stroke-width="1.2"/>
<text x="463.0" y="628.5" font-size="8.6" fill="#5e5e5e" stroke="#5e5e5e" stroke-width="0.2" text-anchor="end">0</text>
<text x="463.0" y="590.4" font-size="8.6" fill="#5e5e5e" stroke="#5e5e5e" stroke-width="0.2" text-anchor="end">10</text>
<text x="463.0" y="552.3" font-size="8.6" fill="#5e5e5e" stroke="#5e5e5e" stroke-width="0.2" text-anchor="end">20</text>
<text x="463.0" y="514.2" font-size="8.6" fill="#5e5e5e" stroke="#5e5e5e" stroke-width="0.2" text-anchor="end">30</text>
<text x="463.0" y="476.1" font-size="8.6" fill="#5e5e5e" stroke="#5e5e5e" stroke-width="0.2" text-anchor="end">40</text>
<text x="469.9" y="641.7" font-size="7.7" fill="#5e5e5e" text-anchor="middle">10<tspan dy="-3.1" font-size="5.5">0</tspan></text>
<text x="514.3" y="641.7" font-size="7.7" fill="#5e5e5e" text-anchor="middle">10<tspan dy="-3.1" font-size="5.5">1</tspan></text>
<text x="558.7" y="641.7" font-size="7.7" fill="#5e5e5e" text-anchor="middle">10<tspan dy="-3.1" font-size="5.5">2</tspan></text>
<text x="603.1" y="641.7" font-size="7.7" fill="#5e5e5e" text-anchor="middle">10<tspan dy="-3.1" font-size="5.5">3</tspan></text>
<text x="647.5" y="641.7" font-size="7.7" fill="#5e5e5e" text-anchor="middle">10<tspan dy="-3.1" font-size="5.5">4</tspan></text>
<path d="M470.4 625.4h-1.6M470.4 615.9h-1.6M470.4 606.4h-1.6M470.4 596.8h-1.6M470.4 587.3h-1.6M470.4 577.8h-1.6M470.4 568.2h-1.6M470.4 558.7h-1.6M470.4 549.2h-1.6M470.4 539.7h-1.6M470.4 530.1h-1.6M470.4 520.6h-1.6M470.4 511.1h-1.6M470.4 501.6h-1.6M470.4 492.0h-1.6M470.4 482.5h-1.6M470.4 473.0h-1.6M470.4 463.5h-1.6M470.4 453.9h-1.6M470.4 625.4h-4.6M470.4 587.3h-4.6M470.4 549.2h-4.6M470.4 511.1h-4.6M470.4 473.0h-4.6M470.4 625.4v4.8M483.8 625.4v2.0M491.6 625.4v2.0M497.1 625.4v2.0M501.4 625.4v3.3M504.9 625.4v2.0M507.9 625.4v2.0M510.5 625.4v2.0M512.8 625.4v2.0M514.8 625.4v4.8M528.2 625.4v2.0M536.0 625.4v2.0M541.5 625.4v2.0M545.8 625.4v3.3M549.3 625.4v2.0M552.3 625.4v2.0M554.9 625.4v2.0M557.2 625.4v2.0M559.2 625.4v4.8M572.6 625.4v2.0M580.4 625.4v2.0M585.9 625.4v2.0M590.2 625.4v3.3M593.7 625.4v2.0M596.7 625.4v2.0M599.3 625.4v2.0M601.6 625.4v2.0M603.6 625.4v4.8M617.0 625.4v2.0M624.8 625.4v2.0M630.3 625.4v2.0M634.6 625.4v3.3M638.1 625.4v2.0M641.1 625.4v2.0M643.7 625.4v2.0M646.0 625.4v2.0M648.0 625.4v4.8" stroke="#5c5c5c" stroke-width="1.05" fill="none"/>
<path d="M586.6 528.0H647.4M586.6 524.1v7.8M647.4 524.1v7.8" stroke="#363636" stroke-width="1.5" fill="none"/>
<text x="616.1" y="523.0" font-size="12" fill="#363636" text-anchor="middle">34.2</text>
<!-- ===== Panel B bar chart ===== -->
<g fill="#b4b4b4" stroke="#000" stroke-width="1.5">
<rect x="123.9" y="868.6" width="42.1" height="106.3"/>
<rect x="187.1" y="808.3" width="41.9" height="166.6"/>
<rect x="250.2" y="958.6" width="42.3" height="16.3"/>
<rect x="313.4" y="897.4" width="42.3" height="77.5"/>
</g>
<path d="M113.4 766.9V974.9H366.2" stroke="#000" stroke-width="1.5" fill="none"/>
<path d="M113.4 974.9h-3.7M113.4 940.3h-3.7M113.4 905.8h-3.7M113.4 871.2h-3.7M113.4 836.7h-3.7M113.4 802.1h-3.7M113.4 767.5h-3.7" stroke="#000" stroke-width="1.3" fill="none"/>
<g font-size="12" fill="#262626" text-anchor="end">
<text x="101" y="980.3">0</text>
<text x="101" y="945.7">10000</text>
<text x="101" y="911.2">20000</text>
<text x="101" y="876.6">30000</text>
<text x="101" y="842.1">40000</text>
<text x="101" y="807.5">50000</text>
<text x="101" y="772.9">60000</text>
</g>
<!-- error bars -->
<path d="M145.3 850.2V887.3M140.1 850.2h10.4M140.1 887.3h10.4 M208.2 780.6V835.4M203 780.6h10.4M203 835.4h10.4 M334.3 887.3V907.7M329.3 887.3h10M329.3 907.7h10" stroke="#000" stroke-width="1.5" fill="none"/>
<path d="M266 958.4h10.6" stroke="#000" stroke-width="2.6" fill="none"/>
<!-- significance brackets -->
<path d="M144.4 826.8V772.3H270.2V932M273.8 932V772.3H335.2V872" stroke="#000" stroke-width="1.3" stroke-dasharray="2.7 1.5" stroke-linejoin="round" fill="none"/>
<text x="262.1" y="771.1" font-size="15.5" font-weight="bold" text-anchor="middle" fill="#000">*</text>
<text x="326" y="771.1" font-size="15.5" font-weight="bold" text-anchor="middle" fill="#000">*</text>
<!-- y label -->
<text transform="translate(47.3 948.4) rotate(-90)" font-size="17" fill="#000" textLength="154" lengthAdjust="spacingAndGlyphs">TER119<tspan font-size="11" dy="-5.5">+</tspan><tspan dy="5.5"> cells / well</tspan></text>
<!-- bottom labels -->
<text x="54.3" y="1001.2" font-size="17" fill="#000" textLength="37" lengthAdjust="spacingAndGlyphs">EPO</text>
<text x="54.9" y="1027.6" font-size="19" fill="#000" textLength="10.4" lengthAdjust="spacingAndGlyphs" style="font-family:'Liberation Serif',serif;font-style:italic">α</text>
<text x="65.4" y="1027.5" font-size="17" fill="#000" textLength="49.2" lengthAdjust="spacingAndGlyphs">-Toxin</text>
<path d="M142.2 996.8h5.1 M269 996.8h5.1 M142.2 1023.2h5.1 M205.8 1023.2h5.1" stroke="#000" stroke-width="1.7" fill="none"/>
<path d="M203.8 995h8.4M208 990.8v8.4 M330.6 995h8.4M334.8 990.8v8.4 M267.3 1021.5h8.4M271.5 1017.3v8.4 M330.6 1021.5h8.4M334.8 1017.3v8.4" stroke="#000" stroke-width="1.5" fill="none"/>
</svg>
</body></html>
